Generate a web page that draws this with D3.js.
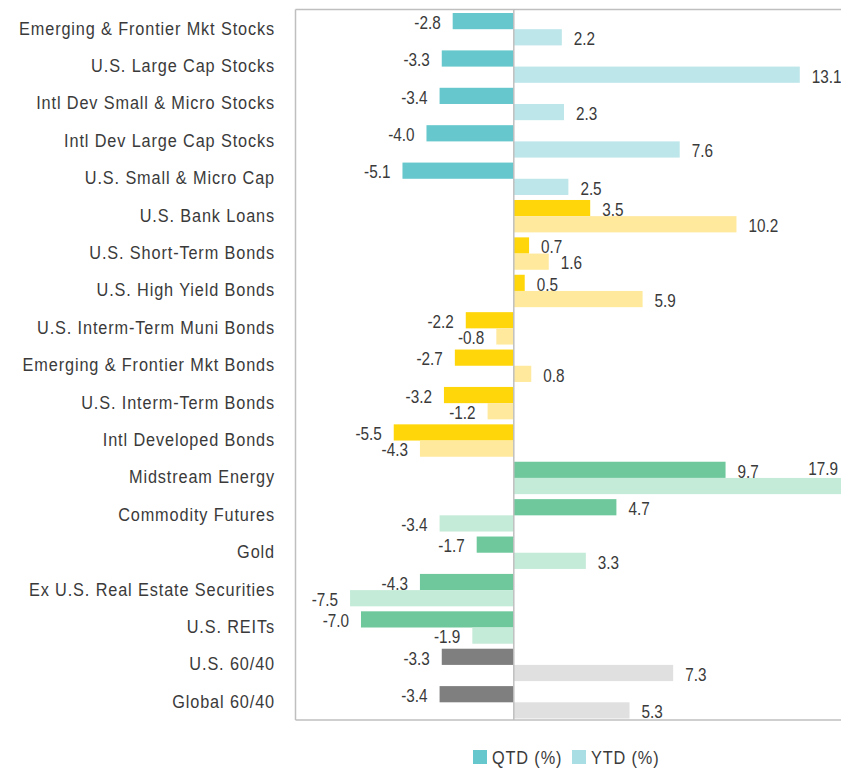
<!DOCTYPE html>
<html>
<head>
<meta charset="utf-8">
<script src="https://cdn.jsdelivr.net/npm/d3@7"></script>
<style>
  body { margin: 0; background: #fff; }
  svg text { font-family: "Liberation Sans", Arial, sans-serif; fill: #3a3a3a; }
</style>
</head>
<body>
<div id="chart"></div>
<script>
// Asset class returns, QTD and YTD (%)
const categories = [
    "Emerging & Frontier Mkt Stocks", "U.S. Large Cap Stocks", "Intl Dev Small & Micro Stocks",
    "Intl Dev Large Cap Stocks", "U.S. Small & Micro Cap", "U.S. Bank Loans",
    "U.S. Short-Term Bonds", "U.S. High Yield Bonds", "U.S. Interm-Term Muni Bonds",
    "Emerging & Frontier Mkt Bonds", "U.S. Interm-Term Bonds", "Intl Developed Bonds",
    "Midstream Energy", "Commodity Futures", "Gold", "Ex U.S. Real Estate Securities",
    "U.S. REITs", "U.S. 60/40", "Global 60/40"
];
const qtd = [-2.8, -3.3, -3.4, -4.0, -5.1, 3.5, 0.7, 0.5, -2.2, -2.7, -3.2, -5.5, 9.7, 4.7, -1.7, -4.3, -7.0, -3.3, -3.4];
const ytd = [2.2, 13.1, 2.3, 7.6, 2.5, 10.2, 1.6, 5.9, -0.8, 0.8, -1.2, -4.3, 17.9, -3.4, 3.3, -7.5, -1.9, 7.3, 5.3];
const groups = [
    "stocks", "stocks", "stocks", "stocks", "stocks",
    "bonds", "bonds", "bonds", "bonds", "bonds", "bonds", "bonds",
    "real", "real", "real", "real", "real",
    "balanced", "balanced"
];
const seriesNames = ["QTD (%)", "YTD (%)"];

const groupColors = {
    stocks:   ["#66c7cc", "#bde6ea"],
    bonds:    ["#ffd60a", "#ffe99c"],
    real:     ["#6fc89c", "#c4ebd8"],
    balanced: ["#7f7f7f", "#e0e0e0"]
};
const legendColors = ["#66c7cc", "#a8dee4"];

const W = 841, H = 770;
const plot = { left: 295.5, top: 9.5, bottom: 720 };

// narrow-looking text: horizontally squeezed
function narrowText(sel, x, y, k) {
    return sel.attr("transform", `translate(${x},${y}) scale(${k},1)`);
}

const svg = d3.select("#chart").append("svg")
    .attr("width", W).attr("height", H);

const x = d3.scaleLinear().domain([-10, 20]).range([plot.left, plot.left + 30 * 21.83]);
const y = d3.scaleBand().domain(categories).range([plot.top, plot.bottom]);
const inner = d3.scaleBand().domain([0, 1]).range([3.5, y.bandwidth() - 1.5]);

// Plot frame
const frameColor = "#bfbfbf";
svg.append("line").attr("x1", plot.left).attr("x2", W).attr("y1", plot.top).attr("y2", plot.top)
    .attr("stroke", frameColor).attr("stroke-width", 1.5);
svg.append("line").attr("x1", plot.left).attr("x2", W).attr("y1", plot.bottom).attr("y2", plot.bottom)
    .attr("stroke", frameColor).attr("stroke-width", 1.5);
svg.append("line").attr("x1", plot.left).attr("x2", plot.left).attr("y1", plot.top).attr("y2", plot.bottom)
    .attr("stroke", frameColor).attr("stroke-width", 1.5);

// Bars
const rows = categories.map((c, i) => ({ cat: c, group: groups[i], vals: [qtd[i], ytd[i]] }));
const barData = rows.flatMap(r => r.vals.map((v, s) => ({ cat: r.cat, group: r.group, s, v })));

svg.append("g").selectAll("rect")
    .data(barData)
    .join("rect")
    .attr("x", d => x(Math.min(0, d.v)))
    .attr("width", d => Math.abs(x(d.v) - x(0)))
    .attr("y", d => y(d.cat) + inner(d.s))
    .attr("height", inner.bandwidth())
    .attr("fill", d => groupColors[d.group][d.s]);

// Zero line on top of bars
svg.append("line").attr("x1", x(0)).attr("x2", x(0)).attr("y1", plot.top).attr("y2", plot.bottom)
    .attr("stroke", frameColor).attr("stroke-width", 1.5);

// Value labels
svg.append("g").selectAll("text")
    .data(barData)
    .join("text")
    .attr("font-size", 18)
    .attr("dy", "0.35em")
    .each(function (d) {
        const t = d3.select(this);
        const end = x(d.v);
        const ty = y(d.cat) + inner(d.s) + inner.bandwidth() / 2 + 1.5;
        if (d.v >= 0) {
            // bar runs past the visible edge: label sits above it, at the edge
            if (end + 40 > W) narrowText(t, W - 3, y(d.cat) + inner(d.s) - 9, 0.85).attr("text-anchor", "end");
            else narrowText(t, end + 12, ty, 0.85).attr("text-anchor", "start");
        } else {
            narrowText(t, end - 12, ty, 0.85).attr("text-anchor", "end");
        }
    })
    .text(d => d.v.toFixed(1));

// Category labels
svg.append("g").selectAll("text")
    .data(categories)
    .join("text")
    .each(function (d) { narrowText(d3.select(this), 275, y(d) + y.bandwidth() / 2, 0.88); })
    .attr("dy", "0.35em")
    .attr("text-anchor", "end")
    .attr("font-size", 18.5)
    .attr("letter-spacing", 1)
    .text(d => d);

// Legend
const legend = svg.append("g").attr("transform", "translate(473,750)");
const legendX = [0, 99];
seriesNames.forEach((name, i) => {
    const g = legend.append("g").attr("transform", `translate(${legendX[i]},0)`);
    g.append("rect").attr("width", 14).attr("height", 14).attr("fill", legendColors[i]);
    narrowText(g.append("text"), 19, 7.5, 0.88)
        .attr("dy", "0.35em").attr("font-size", 18.5).attr("letter-spacing", 1).text(name);
});
</script>
</body>
</html>
